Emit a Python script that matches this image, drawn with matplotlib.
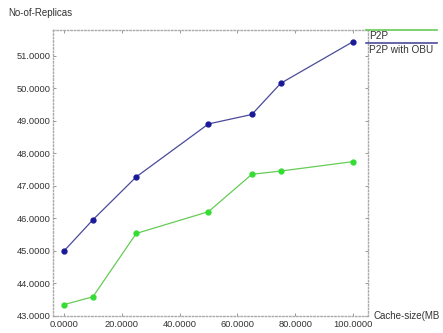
import matplotlib
matplotlib.use("Agg")
import matplotlib.pyplot as plt
from matplotlib.lines import Line2D

plt.rcParams['font.family'] = ['Liberation Sans', 'DejaVu Sans']

cache_size = [0, 10, 25, 50, 65, 75, 100]
p2p = [43.35, 43.59, 45.54, 46.21, 47.36, 47.46, 47.75]
p2p_obu = [45.0, 45.96, 47.28, 48.91, 49.2, 50.16, 51.44]
x_ticks = [0, 20, 40, 60, 80, 100]
y_ticks = [43, 44, 45, 46, 47, 48, 49, 50, 51]

fig = plt.figure(figsize=(4.43, 3.33), dpi=100)
ax = fig.add_axes([53/443, 1-316/333, (368-53)/443, (316-30)/333])

green_line = '#66cc55'
green_mark = '#33dd33'
blue_line = '#4a4a9a'
blue_mark = '#1a1a99'

ax.plot(cache_size, p2p, color=green_line, lw=0.9, marker='o', ms=3.5,
        mfc=green_mark, mec=green_mark)
ax.plot(cache_size, p2p_obu, color=blue_line, lw=0.9, marker='o', ms=3.5,
        mfc=blue_mark, mec=blue_mark)

ax.set_xlim(-3.8, 105.2)
ax.set_ylim(43.0, 51.8)
ax.set_xticks(x_ticks)
ax.set_yticks(y_ticks)
ax.set_xticklabels([f"{v:.4f}" for v in x_ticks])
ax.set_yticklabels([f"{v:.4f}" for v in y_ticks])
ax.tick_params(axis='both', direction='in', length=2, width=0.6, color='#888888',
               labelsize=6.7, labelcolor='#333333', top=True, right=True, pad=2)
ax.tick_params(axis='x', pad=3)
for s in ax.spines.values():
    s.set_linestyle((0, (1, 1.5)))
    s.set_color('#aaaaaa')
    s.set_linewidth(1.0)

fig.text(8/443, 1-13/333, "No-of-Replicas", fontsize=7, color='#333333', va='center', ha='left')
fig.text(374/443, 1-316/333, "Cache-size(MB", fontsize=7, color='#333333', va='center', ha='left')

# legend outside right
fig.add_artist(Line2D([366/443, 437/443], [1-30/333, 1-30/333], color=green_line, lw=1.2,
                      transform=fig.transFigure))
fig.text(369/443, 1-36/333, "P2P", fontsize=7.2, color='#333333', va='center', ha='left')
fig.add_artist(Line2D([366/443, 437/443], [1-43/333, 1-43/333], color=blue_line, lw=1.2,
                      transform=fig.transFigure))
fig.text(369/443, 1-50/333, "P2P with OBU", fontsize=7.2, color='#333333', va='center', ha='left')

fig.savefig("out.png", dpi=100)
